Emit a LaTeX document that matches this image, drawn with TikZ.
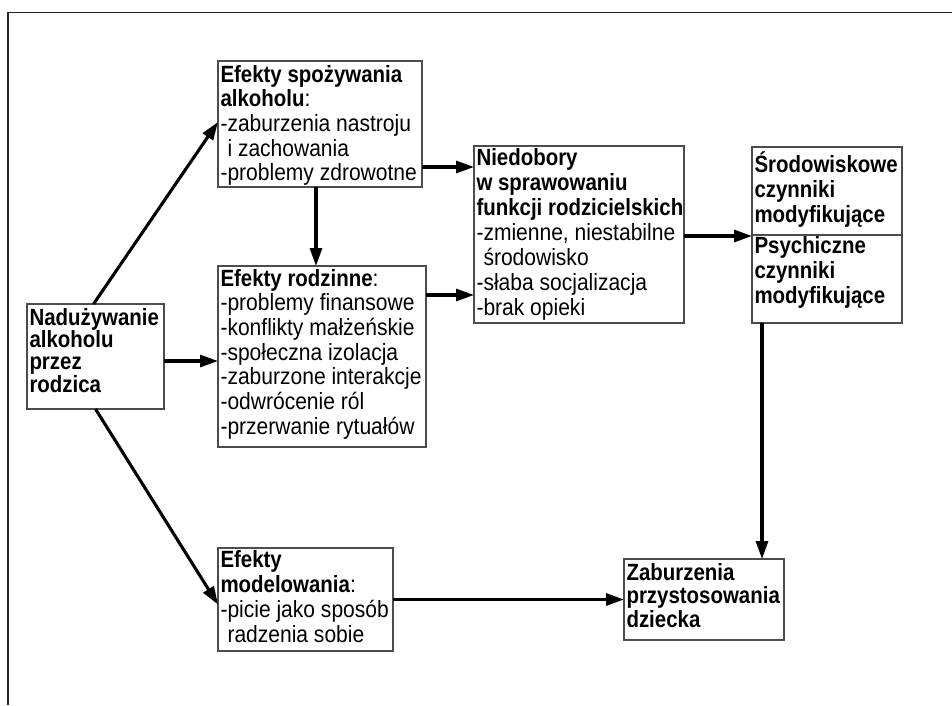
\documentclass[tikz,border=0pt]{standalone}
\usepackage{fontspec}
\setmainfont{Liberation Sans}[FakeStretch=0.895, BoldFeatures={FakeStretch=0.87}]
\usetikzlibrary{arrows.meta,calc}

\tikzset{
  box/.style={draw=black!70, line width=1.2pt, fill=white, inner sep=0pt, outer sep=0pt,
              anchor=north west, rectangle},
  txt/.style={anchor=north west, inner sep=0pt, outer sep=0pt, align=left,
              font=\fontsize{23.5pt}{24.7pt}\selectfont},
  arr/.style={line width=3.1pt, -{Triangle[length=18pt,width=12pt]}},
  frame/.style={line width=1.4pt, draw=black!85}
}
% strut fixing the first baseline 22pt below the top of a text block
\newcommand{\firststrut}{\rule{0pt}{22pt}}
\newcommand{\ind}{\hphantom{-}}

\begin{document}
\begin{tikzpicture}[x=1pt,y=-1pt]
\useasboundingbox (0,0) rectangle (952,705);

% open frame: top and left edges
\draw[frame] (952,12.5) -- (8,12.5) -- (8,705);

% boxes
\node[box, minimum width=137pt, minimum height=105pt] (Nad) at (27,304) {};
\node[box, minimum width=204pt, minimum height=126pt] (A) at (218,61) {};
\node[box, minimum width=208pt, minimum height=181pt] (B) at (218,266) {};
\node[box, minimum width=175pt, minimum height=103pt] (M) at (218,548) {};
\node[box, minimum width=210pt, minimum height=177pt] (N) at (474,146) {};
\node[box, minimum width=150pt, minimum height=88pt] (Sa) at (752,147) {};
\node[box, minimum width=150pt, minimum height=88pt] (Sb) at (752,235) {};
\node[box, minimum width=160pt, minimum height=81pt] (Z) at (624,559) {};

% texts
\node[txt, font=\fontsize{23.5pt}{21.7pt}\selectfont] (NadT) at ([xshift=2.5pt,yshift=1pt]Nad.north west)
  {\firststrut\textbf{Nadużywanie}\\\textbf{alkoholu}\\\textbf{przez}\\\textbf{rodzica}};
\node[txt] (AT) at ([xshift=2.5pt,yshift=1pt]A.north west)
  {\firststrut\textbf{Efekty spożywania}\\\textbf{alkoholu}:\\-zaburzenia nastroju\\\ind i zachowania\\-problemy zdrowotne};
\node[txt] (BT) at ([xshift=2.5pt,yshift=2pt]B.north west)
  {\firststrut\textbf{Efekty rodzinne}:\\-problemy finansowe\\-konflikty małżeńskie\\-społeczna izolacja\\-zaburzone interakcje\\-odwrócenie ról\\-przerwanie rytuałów};
\node[txt, font=\fontsize{23.5pt}{25pt}\selectfont] (MT) at ([xshift=2.5pt,yshift=3pt]M.north west)
  {\firststrut\textbf{Efekty}\\\textbf{modelowania}:\\-picie jako sposób\\\ind radzenia sobie};
\node[txt, font=\fontsize{23.5pt}{25pt}\selectfont] (NT) at ([xshift=2.5pt,yshift=3pt]N.north west)
  {\firststrut\textbf{Niedobory}\\\textbf{w sprawowaniu}\\\textbf{funkcji rodzicielskich}\\-zmienne, niestabilne\\\ind środowisko\\-słaba socjalizacja\\-brak opieki};
\node[txt, font=\fontsize{23.5pt}{25pt}\selectfont] (SaT) at ([xshift=2.5pt,yshift=-3pt]Sa.north west)
  {\firststrut\textbf{Środowiskowe}\\\textbf{czynniki}\\\textbf{modyfikujące}};
\node[txt, font=\fontsize{23.5pt}{25pt}\selectfont] (SbT) at ([xshift=2.5pt,yshift=4pt]Sb.north west)
  {\firststrut\textbf{Psychiczne}\\\textbf{czynniki}\\\textbf{modyfikujące}};
\node[txt, font=\fontsize{23.5pt}{23.5pt}\selectfont] (ZT) at ([xshift=2.5pt,yshift=1pt]Z.north west)
  {\firststrut\textbf{Zaburzenia}\\\textbf{przystosowania}\\\textbf{dziecka}};

% connectors
\draw[arr] ([xshift=-2pt]Nad.north) -- ([yshift=2pt]A.west);
\draw[arr] ([yshift=-4.5pt]Nad.east) -- ([yshift=-4.5pt]Nad.east -| B.west);
\draw[arr] (Nad.south) -- ([yshift=-5pt]M.west);
\draw[arr] ([yshift=-43pt]A.east) -- ([yshift=-43pt]A.east -| N.west);
\draw[arr] ([xshift=-4pt]A.south) -- ([xshift=-4pt]A.south |- B.north);
\draw[arr] ([yshift=61.5pt]B.east) -- ([yshift=61.5pt]B.east -| N.west);
\draw[arr] ([yshift=-1.5pt]N.east) -- ([yshift=-1.5pt]N.east -| Sa.west);
\draw[arr] ([xshift=10pt]Sb.south west) -- ([xshift=10pt]Sb.south west |- Z.north);
\draw[arr] (M.east) -- (M.east -| Z.west);
\end{tikzpicture}
\end{document}
